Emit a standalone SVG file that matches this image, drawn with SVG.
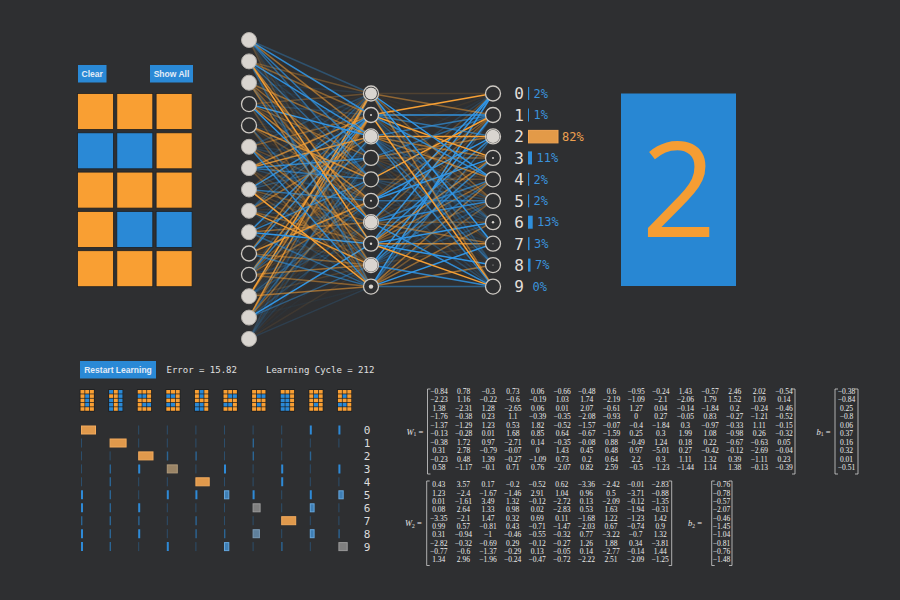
<svg xmlns="http://www.w3.org/2000/svg" width="900" height="600" viewBox="0 0 900 600">
<style>
.o{stroke:#f7a035}
.b{stroke:#3196e6}
#connectors path{stroke-width:1.5;fill:none}
.ni{fill:#2e2f31;stroke:#cdc9c3;stroke-width:1.3}
.nf{fill:#d9d5d0;stroke:#b3afaa;stroke-width:1}
.dot{fill:#d9d5d0}
.btn{fill:#2a89d6}
.btxt{font-family:"Liberation Sans",Arial,sans-serif;font-weight:bold;font-size:8.5px;fill:#e2ecf6;text-anchor:middle}
.on{fill:#f99f33}
.off{fill:#2a89d6}
.cell{stroke:#1f2022;stroke-width:0.8}
.mono{font-family:"DejaVu Sans Mono","Liberation Mono",monospace}
.od{font-size:16px;fill:#e2dfda;text-anchor:middle}
.pt{font-size:12px;fill:#3b93dc}
.pb{fill:#2f8fdc}
.stat{font-size:9px;fill:#e0e0e0}
.ml{font-size:11px;fill:#dcdcdc;text-anchor:middle}
.mx{font-family:"Liberation Serif","DejaVu Serif",serif;font-size:7.5px;fill:#ececec;text-anchor:middle}
.lab{font-family:"Liberation Serif","DejaVu Serif",serif;font-size:8.5px;fill:#e6e6e6}
.brk{fill:none;stroke:#d0d0d0;stroke-width:0.8}
.t1{stroke:#2a89d6;stroke-width:1;opacity:.35}
.t2{stroke:#2a89d6;stroke-width:1.4;opacity:.6}
.t3{stroke:#2f8fe0;stroke-width:2;opacity:.95}
.bo{fill:#e0994c;stroke:#f2aa5c;stroke-width:1}
.bb{fill:#3f7fb5;stroke:#64a6dc;stroke-width:1}
.bg{fill:#7f7f7f;stroke:#9a9a9a;stroke-width:1}
.bt{fill:#9a8466;stroke:#b09a7a;stroke-width:1}
.bgb{fill:#5f809c;stroke:#7a9ab5;stroke-width:1}
.ib{fill:#1d1e20}
</style>
<rect width="900" height="600" fill="#2e2f31"/>

<g id="buttons">
<rect class="btn" x="78" y="65" width="28.5" height="17.5"/>
<text class="btxt" x="92.2" y="76.8">Clear</text>
<rect class="btn" x="150" y="65" width="43" height="17.5"/>
<text class="btxt" x="171.5" y="76.8">Show All</text>
</g>
<g id="input-grid">
<rect class="cell on" x="77.5" y="93.5" width="36" height="36"/>
<rect class="cell on" x="116.8" y="93.5" width="36" height="36"/>
<rect class="cell on" x="156.1" y="93.5" width="36" height="36"/>
<rect class="cell off" x="77.5" y="132.8" width="36" height="36"/>
<rect class="cell off" x="116.8" y="132.8" width="36" height="36"/>
<rect class="cell on" x="156.1" y="132.8" width="36" height="36"/>
<rect class="cell on" x="77.5" y="172.1" width="36" height="36"/>
<rect class="cell on" x="116.8" y="172.1" width="36" height="36"/>
<rect class="cell on" x="156.1" y="172.1" width="36" height="36"/>
<rect class="cell on" x="77.5" y="211.4" width="36" height="36"/>
<rect class="cell off" x="116.8" y="211.4" width="36" height="36"/>
<rect class="cell off" x="156.1" y="211.4" width="36" height="36"/>
<rect class="cell on" x="77.5" y="250.7" width="36" height="36"/>
<rect class="cell on" x="116.8" y="250.7" width="36" height="36"/>
<rect class="cell on" x="156.1" y="250.7" width="36" height="36"/>
</g>

<g id="connectors">
<path class="b" opacity=".34" d="M249 40L371 93.5"/>
<path class="o" opacity=".31" d="M249 61.4L371 93.5"/>
<path class="b" opacity=".12" d="M249 82.7L371 93.5"/>
<path class="o" opacity=".29" d="M249 104.1L371 93.5"/>
<path class="o" opacity=".04" d="M249 125.4L371 93.5"/>
<path class="b" opacity=".26" d="M249 146.8L371 93.5"/>
<path class="b" opacity=".19" d="M249 168.1L371 93.5"/>
<path class="o" opacity=".24" d="M249 189.5L371 93.5"/>
<path class="b" opacity=".38" d="M249 210.8L371 93.5"/>
<path class="b" opacity=".1" d="M249 232.2L371 93.5"/>
<path class="o" opacity=".57" d="M249 253.5L371 93.5"/>
<path class="b" opacity=".23" d="M249 274.9L371 93.5"/>
<path class="o" opacity=".98" d="M249 296.2L371 93.5"/>
<path class="o" opacity=".81" d="M249 317.6L371 93.5"/>
<path class="b" opacity=".22" d="M249 338.9L371 93.5"/>

<path class="b" opacity=".89" d="M249 40L371 115"/>
<path class="o" opacity=".46" d="M249 61.4L371 115"/>
<path class="b" opacity=".09" d="M249 82.7L371 115"/>
<path class="b" opacity=".24" d="M249 104.1L371 115"/>
<path class="b" opacity=".08" d="M249 125.4L371 115"/>
<path class="o" opacity=".41" d="M249 146.8L371 115"/>
<path class="o" opacity=".7" d="M249 168.1L371 115"/>
<path class="b" opacity=".88" d="M249 189.5L371 115"/>
<path class="b" opacity=".44" d="M249 210.8L371 115"/>
<path class="b" opacity=".84" d="M249 232.2L371 115"/>
<path class="b" opacity=".82" d="M249 253.5L371 115"/>
<path class="o" opacity=".72" d="M249 274.9L371 115"/>
<path class="o" opacity=".61" d="M249 296.2L371 115"/>
<path class="o" opacity=".44" d="M249 317.6L371 115"/>
<path class="o" opacity=".06" d="M249 338.9L371 115"/>

<path class="o" opacity=".55" d="M249 40L371 136.4"/>
<path class="b" opacity=".92" d="M249 61.4L371 136.4"/>
<path class="o" opacity=".51" d="M249 82.7L371 136.4"/>
<path class="b" opacity="1" d="M249 104.1L371 136.4"/>
<path class="o" opacity=".04" d="M249 125.4L371 136.4"/>
<path class="o" opacity=".04" d="M249 146.8L371 136.4"/>
<path class="o" opacity=".83" d="M249 168.1L371 136.4"/>
<path class="b" opacity=".24" d="M249 189.5L371 136.4"/>
<path class="o" opacity=".51" d="M249 210.8L371 136.4"/>
<path class="o" opacity=".04" d="M249 232.2L371 136.4"/>
<path class="b" opacity=".06" d="M249 253.5L371 136.4"/>
<path class="b" opacity=".74" d="M249 274.9L371 136.4"/>
<path class="o" opacity=".08" d="M249 296.2L371 136.4"/>
<path class="b" opacity=".1" d="M249 317.6L371 136.4"/>
<path class="b" opacity=".18" d="M249 338.9L371 136.4"/>

<path class="b" opacity=".7" d="M249 40L371 157.9"/>
<path class="b" opacity=".15" d="M249 61.4L371 157.9"/>
<path class="o" opacity=".09" d="M249 82.7L371 157.9"/>
<path class="o" opacity=".44" d="M249 104.1L371 157.9"/>
<path class="b" opacity=".16" d="M249 125.4L371 157.9"/>
<path class="b" opacity=".14" d="M249 146.8L371 157.9"/>
<path class="b" opacity=".83" d="M249 168.1L371 157.9"/>
<path class="b" opacity=".37" d="M249 189.5L371 157.9"/>
<path class="o" opacity=".11" d="M249 232.2L371 157.9"/>
<path class="b" opacity=".04" d="M249 253.5L371 157.9"/>
<path class="o" opacity=".33" d="M249 274.9L371 157.9"/>
<path class="b" opacity=".11" d="M249 296.2L371 157.9"/>
<path class="b" opacity=".48" d="M249 317.6L371 157.9"/>
<path class="b" opacity=".21" d="M249 338.9L371 157.9"/>

<path class="b" opacity=".55" d="M249 40L371 179.3"/>
<path class="b" opacity=".52" d="M249 61.4L371 179.3"/>
<path class="o" opacity=".49" d="M249 82.7L371 179.3"/>
<path class="o" opacity=".21" d="M249 104.1L371 179.3"/>
<path class="o" opacity=".73" d="M249 125.4L371 179.3"/>
<path class="b" opacity=".21" d="M249 146.8L371 179.3"/>
<path class="b" opacity=".63" d="M249 168.1L371 179.3"/>
<path class="b" opacity=".04" d="M249 189.5L371 179.3"/>
<path class="b" opacity=".16" d="M249 210.8L371 179.3"/>
<path class="b" opacity=".74" d="M249 232.2L371 179.3"/>
<path class="o" opacity=".12" d="M249 253.5L371 179.3"/>
<path class="b" opacity=".39" d="M249 274.9L371 179.3"/>
<path class="b" opacity=".13" d="M249 296.2L371 179.3"/>
<path class="o" opacity=".44" d="M249 317.6L371 179.3"/>
<path class="b" opacity=".06" d="M249 338.9L371 179.3"/>

<path class="b" opacity=".05" d="M249 40L371 200.8"/>
<path class="b" opacity=".11" d="M249 61.4L371 200.8"/>
<path class="o" opacity=".04" d="M249 82.7L371 200.8"/>
<path class="o" opacity=".67" d="M249 104.1L371 200.8"/>
<path class="o" opacity=".34" d="M249 125.4L371 200.8"/>
<path class="o" opacity=".26" d="M249 146.8L371 200.8"/>
<path class="b" opacity=".27" d="M249 168.1L371 200.8"/>
<path class="b" opacity=".64" d="M249 189.5L371 200.8"/>
<path class="o" opacity=".1" d="M249 210.8L371 200.8"/>
<path class="o" opacity=".12" d="M249 232.2L371 200.8"/>
<path class="o" opacity=".8" d="M249 253.5L371 200.8"/>
<path class="o" opacity=".43" d="M249 274.9L371 200.8"/>
<path class="b" opacity=".39" d="M249 296.2L371 200.8"/>
<path class="o" opacity=".1" d="M249 317.6L371 200.8"/>
<path class="b" opacity=".13" d="M249 338.9L371 200.8"/>

<path class="b" opacity=".15" d="M249 40L371 222.2"/>
<path class="o" opacity=".69" d="M249 61.4L371 222.2"/>
<path class="o" opacity=".39" d="M249 82.7L371 222.2"/>
<path class="b" opacity="1" d="M249 104.1L371 222.2"/>
<path class="o" opacity=".06" d="M249 125.4L371 222.2"/>
<path class="b" opacity=".14" d="M249 146.8L371 222.2"/>
<path class="b" opacity=".04" d="M249 168.1L371 222.2"/>
<path class="o" opacity=".35" d="M249 189.5L371 222.2"/>
<path class="b" opacity=".2" d="M249 210.8L371 222.2"/>
<path class="o" opacity=".5" d="M249 232.2L371 222.2"/>
<path class="o" opacity=".07" d="M249 253.5L371 222.2"/>
<path class="o" opacity=".09" d="M249 274.9L371 222.2"/>
<path class="b" opacity=".27" d="M249 296.2L371 222.2"/>
<path class="b" opacity=".25" d="M249 317.6L371 222.2"/>
<path class="o" opacity=".04" d="M249 338.9L371 222.2"/>

<path class="o" opacity=".12" d="M249 40L371 243.7"/>
<path class="o" opacity="1" d="M249 61.4L371 243.7"/>
<path class="b" opacity=".32" d="M249 82.7L371 243.7"/>
<path class="b" opacity=".04" d="M249 104.1L371 243.7"/>
<path class="o" opacity=".57" d="M249 146.8L371 243.7"/>
<path class="o" opacity=".18" d="M249 168.1L371 243.7"/>
<path class="o" opacity=".19" d="M249 189.5L371 243.7"/>
<path class="o" opacity=".39" d="M249 210.8L371 243.7"/>
<path class="b" opacity="1" d="M249 232.2L371 243.7"/>
<path class="o" opacity=".11" d="M249 253.5L371 243.7"/>
<path class="b" opacity=".17" d="M249 274.9L371 243.7"/>
<path class="b" opacity=".05" d="M249 296.2L371 243.7"/>
<path class="b" opacity="1" d="M249 317.6L371 243.7"/>
<path class="b" opacity=".04" d="M249 338.9L371 243.7"/>

<path class="b" opacity=".09" d="M249 40L371 265.1"/>
<path class="o" opacity=".19" d="M249 61.4L371 265.1"/>
<path class="o" opacity=".56" d="M249 82.7L371 265.1"/>
<path class="b" opacity=".11" d="M249 104.1L371 265.1"/>
<path class="b" opacity=".44" d="M249 125.4L371 265.1"/>
<path class="o" opacity=".29" d="M249 146.8L371 265.1"/>
<path class="o" opacity=".08" d="M249 168.1L371 265.1"/>
<path class="o" opacity=".26" d="M249 189.5L371 265.1"/>
<path class="o" opacity=".88" d="M249 210.8L371 265.1"/>
<path class="o" opacity=".12" d="M249 232.2L371 265.1"/>
<path class="o" opacity=".44" d="M249 253.5L371 265.1"/>
<path class="o" opacity=".53" d="M249 274.9L371 265.1"/>
<path class="o" opacity=".16" d="M249 296.2L371 265.1"/>
<path class="b" opacity=".44" d="M249 317.6L371 265.1"/>
<path class="o" opacity=".09" d="M249 338.9L371 265.1"/>

<path class="o" opacity=".23" d="M249 40L371 286.6"/>
<path class="b" opacity=".47" d="M249 61.4L371 286.6"/>
<path class="b" opacity=".04" d="M249 82.7L371 286.6"/>
<path class="o" opacity=".28" d="M249 104.1L371 286.6"/>
<path class="o" opacity=".3" d="M249 125.4L371 286.6"/>
<path class="b" opacity=".83" d="M249 146.8L371 286.6"/>
<path class="o" opacity=".33" d="M249 168.1L371 286.6"/>
<path class="o" opacity="1" d="M249 189.5L371 286.6"/>
<path class="b" opacity=".2" d="M249 210.8L371 286.6"/>
<path class="b" opacity=".49" d="M249 232.2L371 286.6"/>
<path class="b" opacity=".58" d="M249 253.5L371 286.6"/>
<path class="o" opacity=".46" d="M249 274.9L371 286.6"/>
<path class="o" opacity=".55" d="M249 296.2L371 286.6"/>
<path class="b" opacity=".05" d="M249 317.6L371 286.6"/>
<path class="b" opacity=".16" d="M249 338.9L371 286.6"/>

<path class="o" opacity=".17" d="M371 93.5L493 93.5"/>
<path class="o" opacity="1" d="M371 115L493 93.5"/>
<path class="o" opacity=".07" d="M371 136.4L493 93.5"/>
<path class="b" opacity=".08" d="M371 157.9L493 93.5"/>
<path class="b" opacity=".21" d="M371 179.3L493 93.5"/>
<path class="o" opacity=".25" d="M371 200.8L493 93.5"/>
<path class="b" opacity="1" d="M371 222.2L493 93.5"/>
<path class="b" opacity=".97" d="M371 243.7L493 93.5"/>
<path class="b" opacity=".04" d="M371 265.1L493 93.5"/>
<path class="b" opacity="1" d="M371 286.6L493 93.5"/>

<path class="o" opacity=".49" d="M371 93.5L493 115"/>
<path class="b" opacity=".96" d="M371 115L493 115"/>
<path class="b" opacity=".67" d="M371 136.4L493 115"/>
<path class="b" opacity=".58" d="M371 157.9L493 115"/>
<path class="o" opacity="1" d="M371 179.3L493 115"/>
<path class="o" opacity=".42" d="M371 200.8L493 115"/>
<path class="o" opacity=".38" d="M371 222.2L493 115"/>
<path class="o" opacity=".2" d="M371 243.7L493 115"/>
<path class="b" opacity="1" d="M371 265.1L493 115"/>
<path class="b" opacity=".35" d="M371 286.6L493 115"/>

<path class="o" opacity=".04" d="M371 93.5L493 136.4"/>
<path class="b" opacity=".64" d="M371 115L493 136.4"/>
<path class="o" opacity="1" d="M371 136.4L493 136.4"/>
<path class="o" opacity=".53" d="M371 157.9L493 136.4"/>
<path class="b" opacity=".05" d="M371 179.3L493 136.4"/>
<path class="b" opacity="1" d="M371 200.8L493 136.4"/>
<path class="o" opacity=".05" d="M371 222.2L493 136.4"/>
<path class="b" opacity=".84" d="M371 243.7L493 136.4"/>
<path class="b" opacity=".05" d="M371 265.1L493 136.4"/>
<path class="b" opacity=".54" d="M371 286.6L493 136.4"/>

<path class="o" opacity=".04" d="M371 93.5L493 157.9"/>
<path class="o" opacity="1" d="M371 115L493 157.9"/>
<path class="o" opacity=".53" d="M371 136.4L493 157.9"/>
<path class="o" opacity=".39" d="M371 157.9L493 157.9"/>
<path class="o" opacity=".04" d="M371 179.3L493 157.9"/>
<path class="b" opacity="1" d="M371 200.8L493 157.9"/>
<path class="o" opacity=".21" d="M371 222.2L493 157.9"/>
<path class="o" opacity=".65" d="M371 243.7L493 157.9"/>
<path class="b" opacity=".78" d="M371 265.1L493 157.9"/>
<path class="b" opacity=".12" d="M371 286.6L493 157.9"/>

<path class="b" opacity="1" d="M371 93.5L493 179.3"/>
<path class="b" opacity=".84" d="M371 115L493 179.3"/>
<path class="o" opacity=".59" d="M371 136.4L493 179.3"/>
<path class="o" opacity=".13" d="M371 157.9L493 179.3"/>
<path class="o" opacity=".28" d="M371 179.3L493 179.3"/>
<path class="o" opacity=".04" d="M371 200.8L493 179.3"/>
<path class="b" opacity=".67" d="M371 222.2L493 179.3"/>
<path class="o" opacity=".49" d="M371 243.7L493 179.3"/>
<path class="b" opacity=".49" d="M371 265.1L493 179.3"/>
<path class="o" opacity=".57" d="M371 286.6L493 179.3"/>

<path class="o" opacity=".4" d="M371 93.5L493 200.8"/>
<path class="o" opacity=".23" d="M371 115L493 200.8"/>
<path class="b" opacity=".32" d="M371 136.4L493 200.8"/>
<path class="o" opacity=".17" d="M371 157.9L493 200.8"/>
<path class="b" opacity=".28" d="M371 179.3L493 200.8"/>
<path class="b" opacity=".59" d="M371 200.8L493 200.8"/>
<path class="b" opacity=".81" d="M371 222.2L493 200.8"/>
<path class="o" opacity=".27" d="M371 243.7L493 200.8"/>
<path class="b" opacity=".3" d="M371 265.1L493 200.8"/>
<path class="o" opacity=".36" d="M371 286.6L493 200.8"/>

<path class="o" opacity=".12" d="M371 93.5L493 222.2"/>
<path class="b" opacity=".38" d="M371 115L493 222.2"/>
<path class="b" opacity=".4" d="M371 136.4L493 222.2"/>
<path class="b" opacity=".18" d="M371 157.9L493 222.2"/>
<path class="b" opacity=".22" d="M371 179.3L493 222.2"/>
<path class="b" opacity=".13" d="M371 200.8L493 222.2"/>
<path class="o" opacity=".31" d="M371 222.2L493 222.2"/>
<path class="b" opacity="1" d="M371 243.7L493 222.2"/>
<path class="b" opacity=".28" d="M371 265.1L493 222.2"/>
<path class="o" opacity=".53" d="M371 286.6L493 222.2"/>

<path class="b" opacity="1" d="M371 93.5L493 243.7"/>
<path class="b" opacity=".13" d="M371 115L493 243.7"/>
<path class="b" opacity=".28" d="M371 136.4L493 243.7"/>
<path class="o" opacity=".12" d="M371 157.9L493 243.7"/>
<path class="b" opacity=".05" d="M371 179.3L493 243.7"/>
<path class="b" opacity=".11" d="M371 200.8L493 243.7"/>
<path class="o" opacity=".5" d="M371 222.2L493 243.7"/>
<path class="o" opacity=".75" d="M371 243.7L493 243.7"/>
<path class="o" opacity=".14" d="M371 265.1L493 243.7"/>
<path class="b" opacity="1" d="M371 286.6L493 243.7"/>

<path class="b" opacity=".31" d="M371 93.5L493 265.1"/>
<path class="b" opacity=".24" d="M371 115L493 265.1"/>
<path class="b" opacity=".55" d="M371 136.4L493 265.1"/>
<path class="b" opacity=".12" d="M371 157.9L493 265.1"/>
<path class="o" opacity=".05" d="M371 179.3L493 265.1"/>
<path class="b" opacity=".04" d="M371 200.8L493 265.1"/>
<path class="o" opacity=".06" d="M371 222.2L493 265.1"/>
<path class="b" opacity="1" d="M371 243.7L493 265.1"/>
<path class="b" opacity=".06" d="M371 265.1L493 265.1"/>
<path class="o" opacity=".58" d="M371 286.6L493 265.1"/>

<path class="o" opacity=".54" d="M371 93.5L493 286.6"/>
<path class="o" opacity="1" d="M371 115L493 286.6"/>
<path class="b" opacity=".78" d="M371 136.4L493 286.6"/>
<path class="b" opacity=".1" d="M371 157.9L493 286.6"/>
<path class="b" opacity=".19" d="M371 179.3L493 286.6"/>
<path class="b" opacity=".29" d="M371 200.8L493 286.6"/>
<path class="b" opacity=".89" d="M371 222.2L493 286.6"/>
<path class="o" opacity="1" d="M371 243.7L493 286.6"/>
<path class="b" opacity=".84" d="M371 265.1L493 286.6"/>
<path class="b" opacity=".5" d="M371 286.6L493 286.6"/>
</g>

<g id="in-0"><circle class="nf" cx="249" cy="40" r="7.5"/></g>
<g id="in-1"><circle class="nf" cx="249" cy="61.4" r="7.5"/></g>
<g id="in-2"><circle class="nf" cx="249" cy="82.7" r="7.5"/></g>
<g id="in-3"><circle class="ni" cx="249" cy="104.1" r="7.5"/></g>
<g id="in-4"><circle class="ni" cx="249" cy="125.4" r="7.5"/></g>
<g id="in-5"><circle class="nf" cx="249" cy="146.8" r="7.5"/></g>
<g id="in-6"><circle class="nf" cx="249" cy="168.1" r="7.5"/></g>
<g id="in-7"><circle class="nf" cx="249" cy="189.5" r="7.5"/></g>
<g id="in-8"><circle class="nf" cx="249" cy="210.8" r="7.5"/></g>
<g id="in-9"><circle class="nf" cx="249" cy="232.2" r="7.5"/></g>
<g id="in-10"><circle class="ni" cx="249" cy="253.5" r="7.5"/></g>
<g id="in-11"><circle class="ni" cx="249" cy="274.9" r="7.5"/></g>
<g id="in-12"><circle class="nf" cx="249" cy="296.2" r="7.5"/></g>
<g id="in-13"><circle class="nf" cx="249" cy="317.6" r="7.5"/></g>
<g id="in-14"><circle class="nf" cx="249" cy="338.9" r="7.5"/></g>

<g id="hid-0"><circle class="ni" cx="371" cy="93.5" r="7.5"/><circle class="dot" cx="371" cy="93.5" r="6"/></g>
<g id="hid-1"><circle class="ni" cx="371" cy="115" r="7.5"/><circle class="dot" cx="371" cy="115" r="1"/></g>
<g id="hid-2"><circle class="ni" cx="371" cy="136.4" r="7.5"/><circle class="dot" cx="371" cy="136.4" r="6.6"/></g>
<g id="hid-3"><circle class="ni" cx="371" cy="157.9" r="7.5"/></g>
<g id="hid-4"><circle class="ni" cx="371" cy="179.3" r="7.5"/></g>
<g id="hid-5"><circle class="ni" cx="371" cy="200.8" r="7.5"/><circle class="dot" cx="371" cy="200.8" r="1"/></g>
<g id="hid-6"><circle class="ni" cx="371" cy="222.2" r="7.5"/><circle class="dot" cx="371" cy="222.2" r="6.6"/></g>
<g id="hid-7"><circle class="ni" cx="371" cy="243.7" r="7.5"/><circle class="dot" cx="371" cy="243.7" r="1.2"/></g>
<g id="hid-8"><circle class="ni" cx="371" cy="265.1" r="7.5"/><circle class="dot" cx="371" cy="265.1" r="6.6"/></g>
<g id="hid-9"><circle class="ni" cx="371" cy="286.6" r="7.5"/><circle class="dot" cx="371" cy="286.6" r="2.2"/></g>

<g id="out-0" class="mono"><circle class="ni" cx="493" cy="93.5" r="7.5"/><text class="od" x="519" y="99.3">0</text><rect class="pb" x="528" y="87" width="1.2" height="13"/><text class="pt" x="533.5" y="97.7">2%</text></g>
<g id="out-1" class="mono"><circle class="ni" cx="493" cy="115" r="7.5"/><text class="od" x="519" y="120.8">1</text><rect class="pb" x="528" y="108.5" width="1" height="13"/><text class="pt" x="533.5" y="119.2">1%</text></g>
<g id="out-2" class="mono"><circle class="ni" cx="493" cy="136.4" r="7.5"/><circle class="dot" cx="493" cy="136.4" r="6.6"/><text class="od" x="519" y="142.2">2</text><rect x="528.5" y="130.4" width="29.5" height="12.5" fill="#e39a48" stroke="#f3a654"/><text class="pt" x="562" y="140.6" style="fill:#eda050">82%</text></g>
<g id="out-3" class="mono"><circle class="ni" cx="493" cy="157.9" r="7.5"/><circle class="dot" cx="493" cy="157.9" r="1"/><text class="od" x="519" y="163.7">3</text><rect class="pb" x="528" y="151.4" width="4" height="13"/><text class="pt" x="536.5" y="162.1">11%</text></g>
<g id="out-4" class="mono"><circle class="ni" cx="493" cy="179.3" r="7.5"/><text class="od" x="519" y="185.1">4</text><rect class="pb" x="528" y="172.8" width="1.2" height="13"/><text class="pt" x="533.5" y="183.5">2%</text></g>
<g id="out-5" class="mono"><circle class="ni" cx="493" cy="200.8" r="7.5"/><text class="od" x="519" y="206.6">5</text><rect class="pb" x="528" y="194.3" width="1.2" height="13"/><text class="pt" x="533.5" y="205">2%</text></g>
<g id="out-6" class="mono"><circle class="ni" cx="493" cy="222.2" r="7.5"/><circle class="dot" cx="493" cy="222.2" r="1.2"/><text class="od" x="519" y="228">6</text><rect class="pb" x="528" y="215.7" width="4.7" height="13"/><text class="pt" x="537" y="226.4">13%</text></g>
<g id="out-7" class="mono"><circle class="ni" cx="493" cy="243.7" r="7.5"/><circle class="dot" cx="493" cy="243.7" r="0.5"/><text class="od" x="519" y="249.5">7</text><rect class="pb" x="528" y="237.2" width="1.5" height="13"/><text class="pt" x="534" y="247.9">3%</text></g>
<g id="out-8" class="mono"><circle class="ni" cx="493" cy="265.1" r="7.5"/><circle class="dot" cx="493" cy="265.1" r="0.5"/><text class="od" x="519" y="270.9">8</text><rect class="pb" x="528" y="258.6" width="2.5" height="13"/><text class="pt" x="535" y="269.3">7%</text></g>
<g id="out-9" class="mono"><circle class="ni" cx="493" cy="286.6" r="7.5"/><text class="od" x="519" y="292.4">9</text><text class="pt" x="532.5" y="290.8">0%</text></g>

<g id="prediction">
<rect x="621" y="93.5" width="115" height="192.5" fill="#2887d3"/>
<text x="679" y="236.5" font-family="'Open Sans','Noto Sans',sans-serif" font-size="131" fill="#f59d33" text-anchor="middle">2</text>
</g>

<g id="status">
<rect class="btn" x="80" y="361" width="76" height="17.5"/>
<text class="btxt" x="118" y="372.8">Restart Learning</text>
<text class="mono stat" x="166.5" y="373">Error = 15.82</text>
<text class="mono stat" x="266" y="373">Learning Cycle = 212</text>
</g>

<g id="samples">
<g transform="translate(80.5 390)"><rect class="ib" x="-0.8" y="-0.8" width="14.9" height="22.4"/>
<rect class="on" x="0" y="0" width="4" height="3.6"/><rect class="on" x="4.7" y="0" width="4" height="3.6"/><rect class="on" x="9.4" y="0" width="4" height="3.6"/>
<rect class="on" x="0" y="4.3" width="4" height="3.6"/><rect class="off" x="4.7" y="4.3" width="4" height="3.6"/><rect class="on" x="9.4" y="4.3" width="4" height="3.6"/>
<rect class="on" x="0" y="8.6" width="4" height="3.6"/><rect class="off" x="4.7" y="8.6" width="4" height="3.6"/><rect class="on" x="9.4" y="8.6" width="4" height="3.6"/>
<rect class="on" x="0" y="12.9" width="4" height="3.6"/><rect class="off" x="4.7" y="12.9" width="4" height="3.6"/><rect class="on" x="9.4" y="12.9" width="4" height="3.6"/>
<rect class="on" x="0" y="17.2" width="4" height="3.6"/><rect class="on" x="4.7" y="17.2" width="4" height="3.6"/><rect class="on" x="9.4" y="17.2" width="4" height="3.6"/></g>
<g transform="translate(109.1 390)"><rect class="ib" x="-0.8" y="-0.8" width="14.9" height="22.4"/>
<rect class="off" x="0" y="0" width="4" height="3.6"/><rect class="on" x="4.7" y="0" width="4" height="3.6"/><rect class="off" x="9.4" y="0" width="4" height="3.6"/>
<rect class="on" x="0" y="4.3" width="4" height="3.6"/><rect class="on" x="4.7" y="4.3" width="4" height="3.6"/><rect class="off" x="9.4" y="4.3" width="4" height="3.6"/>
<rect class="off" x="0" y="8.6" width="4" height="3.6"/><rect class="on" x="4.7" y="8.6" width="4" height="3.6"/><rect class="off" x="9.4" y="8.6" width="4" height="3.6"/>
<rect class="off" x="0" y="12.9" width="4" height="3.6"/><rect class="on" x="4.7" y="12.9" width="4" height="3.6"/><rect class="off" x="9.4" y="12.9" width="4" height="3.6"/>
<rect class="off" x="0" y="17.2" width="4" height="3.6"/><rect class="on" x="4.7" y="17.2" width="4" height="3.6"/><rect class="off" x="9.4" y="17.2" width="4" height="3.6"/></g>
<g transform="translate(137.7 390)"><rect class="ib" x="-0.8" y="-0.8" width="14.9" height="22.4"/>
<rect class="on" x="0" y="0" width="4" height="3.6"/><rect class="on" x="4.7" y="0" width="4" height="3.6"/><rect class="on" x="9.4" y="0" width="4" height="3.6"/>
<rect class="off" x="0" y="4.3" width="4" height="3.6"/><rect class="off" x="4.7" y="4.3" width="4" height="3.6"/><rect class="on" x="9.4" y="4.3" width="4" height="3.6"/>
<rect class="on" x="0" y="8.6" width="4" height="3.6"/><rect class="on" x="4.7" y="8.6" width="4" height="3.6"/><rect class="on" x="9.4" y="8.6" width="4" height="3.6"/>
<rect class="on" x="0" y="12.9" width="4" height="3.6"/><rect class="off" x="4.7" y="12.9" width="4" height="3.6"/><rect class="off" x="9.4" y="12.9" width="4" height="3.6"/>
<rect class="on" x="0" y="17.2" width="4" height="3.6"/><rect class="on" x="4.7" y="17.2" width="4" height="3.6"/><rect class="on" x="9.4" y="17.2" width="4" height="3.6"/></g>
<g transform="translate(166.3 390)"><rect class="ib" x="-0.8" y="-0.8" width="14.9" height="22.4"/>
<rect class="on" x="0" y="0" width="4" height="3.6"/><rect class="on" x="4.7" y="0" width="4" height="3.6"/><rect class="on" x="9.4" y="0" width="4" height="3.6"/>
<rect class="off" x="0" y="4.3" width="4" height="3.6"/><rect class="off" x="4.7" y="4.3" width="4" height="3.6"/><rect class="on" x="9.4" y="4.3" width="4" height="3.6"/>
<rect class="on" x="0" y="8.6" width="4" height="3.6"/><rect class="on" x="4.7" y="8.6" width="4" height="3.6"/><rect class="on" x="9.4" y="8.6" width="4" height="3.6"/>
<rect class="off" x="0" y="12.9" width="4" height="3.6"/><rect class="off" x="4.7" y="12.9" width="4" height="3.6"/><rect class="on" x="9.4" y="12.9" width="4" height="3.6"/>
<rect class="on" x="0" y="17.2" width="4" height="3.6"/><rect class="on" x="4.7" y="17.2" width="4" height="3.6"/><rect class="on" x="9.4" y="17.2" width="4" height="3.6"/></g>
<g transform="translate(194.9 390)"><rect class="ib" x="-0.8" y="-0.8" width="14.9" height="22.4"/>
<rect class="on" x="0" y="0" width="4" height="3.6"/><rect class="off" x="4.7" y="0" width="4" height="3.6"/><rect class="on" x="9.4" y="0" width="4" height="3.6"/>
<rect class="on" x="0" y="4.3" width="4" height="3.6"/><rect class="off" x="4.7" y="4.3" width="4" height="3.6"/><rect class="on" x="9.4" y="4.3" width="4" height="3.6"/>
<rect class="on" x="0" y="8.6" width="4" height="3.6"/><rect class="on" x="4.7" y="8.6" width="4" height="3.6"/><rect class="on" x="9.4" y="8.6" width="4" height="3.6"/>
<rect class="off" x="0" y="12.9" width="4" height="3.6"/><rect class="off" x="4.7" y="12.9" width="4" height="3.6"/><rect class="on" x="9.4" y="12.9" width="4" height="3.6"/>
<rect class="off" x="0" y="17.2" width="4" height="3.6"/><rect class="off" x="4.7" y="17.2" width="4" height="3.6"/><rect class="on" x="9.4" y="17.2" width="4" height="3.6"/></g>
<g transform="translate(223.5 390)"><rect class="ib" x="-0.8" y="-0.8" width="14.9" height="22.4"/>
<rect class="on" x="0" y="0" width="4" height="3.6"/><rect class="on" x="4.7" y="0" width="4" height="3.6"/><rect class="on" x="9.4" y="0" width="4" height="3.6"/>
<rect class="on" x="0" y="4.3" width="4" height="3.6"/><rect class="off" x="4.7" y="4.3" width="4" height="3.6"/><rect class="off" x="9.4" y="4.3" width="4" height="3.6"/>
<rect class="on" x="0" y="8.6" width="4" height="3.6"/><rect class="on" x="4.7" y="8.6" width="4" height="3.6"/><rect class="on" x="9.4" y="8.6" width="4" height="3.6"/>
<rect class="off" x="0" y="12.9" width="4" height="3.6"/><rect class="off" x="4.7" y="12.9" width="4" height="3.6"/><rect class="on" x="9.4" y="12.9" width="4" height="3.6"/>
<rect class="on" x="0" y="17.2" width="4" height="3.6"/><rect class="on" x="4.7" y="17.2" width="4" height="3.6"/><rect class="on" x="9.4" y="17.2" width="4" height="3.6"/></g>
<g transform="translate(252.1 390)"><rect class="ib" x="-0.8" y="-0.8" width="14.9" height="22.4"/>
<rect class="on" x="0" y="0" width="4" height="3.6"/><rect class="on" x="4.7" y="0" width="4" height="3.6"/><rect class="on" x="9.4" y="0" width="4" height="3.6"/>
<rect class="on" x="0" y="4.3" width="4" height="3.6"/><rect class="off" x="4.7" y="4.3" width="4" height="3.6"/><rect class="off" x="9.4" y="4.3" width="4" height="3.6"/>
<rect class="on" x="0" y="8.6" width="4" height="3.6"/><rect class="on" x="4.7" y="8.6" width="4" height="3.6"/><rect class="on" x="9.4" y="8.6" width="4" height="3.6"/>
<rect class="on" x="0" y="12.9" width="4" height="3.6"/><rect class="off" x="4.7" y="12.9" width="4" height="3.6"/><rect class="on" x="9.4" y="12.9" width="4" height="3.6"/>
<rect class="on" x="0" y="17.2" width="4" height="3.6"/><rect class="on" x="4.7" y="17.2" width="4" height="3.6"/><rect class="on" x="9.4" y="17.2" width="4" height="3.6"/></g>
<g transform="translate(280.7 390)"><rect class="ib" x="-0.8" y="-0.8" width="14.9" height="22.4"/>
<rect class="on" x="0" y="0" width="4" height="3.6"/><rect class="on" x="4.7" y="0" width="4" height="3.6"/><rect class="on" x="9.4" y="0" width="4" height="3.6"/>
<rect class="off" x="0" y="4.3" width="4" height="3.6"/><rect class="off" x="4.7" y="4.3" width="4" height="3.6"/><rect class="on" x="9.4" y="4.3" width="4" height="3.6"/>
<rect class="off" x="0" y="8.6" width="4" height="3.6"/><rect class="off" x="4.7" y="8.6" width="4" height="3.6"/><rect class="on" x="9.4" y="8.6" width="4" height="3.6"/>
<rect class="off" x="0" y="12.9" width="4" height="3.6"/><rect class="off" x="4.7" y="12.9" width="4" height="3.6"/><rect class="on" x="9.4" y="12.9" width="4" height="3.6"/>
<rect class="off" x="0" y="17.2" width="4" height="3.6"/><rect class="off" x="4.7" y="17.2" width="4" height="3.6"/><rect class="on" x="9.4" y="17.2" width="4" height="3.6"/></g>
<g transform="translate(309.3 390)"><rect class="ib" x="-0.8" y="-0.8" width="14.9" height="22.4"/>
<rect class="on" x="0" y="0" width="4" height="3.6"/><rect class="on" x="4.7" y="0" width="4" height="3.6"/><rect class="on" x="9.4" y="0" width="4" height="3.6"/>
<rect class="on" x="0" y="4.3" width="4" height="3.6"/><rect class="off" x="4.7" y="4.3" width="4" height="3.6"/><rect class="on" x="9.4" y="4.3" width="4" height="3.6"/>
<rect class="on" x="0" y="8.6" width="4" height="3.6"/><rect class="on" x="4.7" y="8.6" width="4" height="3.6"/><rect class="on" x="9.4" y="8.6" width="4" height="3.6"/>
<rect class="on" x="0" y="12.9" width="4" height="3.6"/><rect class="off" x="4.7" y="12.9" width="4" height="3.6"/><rect class="on" x="9.4" y="12.9" width="4" height="3.6"/>
<rect class="on" x="0" y="17.2" width="4" height="3.6"/><rect class="on" x="4.7" y="17.2" width="4" height="3.6"/><rect class="on" x="9.4" y="17.2" width="4" height="3.6"/></g>
<g transform="translate(337.9 390)"><rect class="ib" x="-0.8" y="-0.8" width="14.9" height="22.4"/>
<rect class="on" x="0" y="0" width="4" height="3.6"/><rect class="on" x="4.7" y="0" width="4" height="3.6"/><rect class="on" x="9.4" y="0" width="4" height="3.6"/>
<rect class="on" x="0" y="4.3" width="4" height="3.6"/><rect class="off" x="4.7" y="4.3" width="4" height="3.6"/><rect class="on" x="9.4" y="4.3" width="4" height="3.6"/>
<rect class="on" x="0" y="8.6" width="4" height="3.6"/><rect class="on" x="4.7" y="8.6" width="4" height="3.6"/><rect class="on" x="9.4" y="8.6" width="4" height="3.6"/>
<rect class="off" x="0" y="12.9" width="4" height="3.6"/><rect class="off" x="4.7" y="12.9" width="4" height="3.6"/><rect class="on" x="9.4" y="12.9" width="4" height="3.6"/>
<rect class="on" x="0" y="17.2" width="4" height="3.6"/><rect class="on" x="4.7" y="17.2" width="4" height="3.6"/><rect class="on" x="9.4" y="17.2" width="4" height="3.6"/></g>
</g>

<g id="results">
<path class="t1" d="M138.7 425.5v9M167.3 425.5v9M195.9 425.5v9M224.5 425.5v9M253.1 425.5v9M281.7 425.5v9M81.5 438.5v9M138.7 438.5v9M167.3 438.5v9M195.9 438.5v9M224.5 438.5v9M281.7 438.5v9M310.3 438.5v9M338.9 438.5v9M81.5 451.4v9M110.1 451.4v9M224.5 451.4v9M281.7 451.4v9M81.5 464.4v9M195.9 464.4v9M253.1 464.4v9M310.3 464.4v9M81.5 477.3v9M138.7 477.3v9M167.3 477.3v9M224.5 477.3v9M253.1 477.3v9M310.3 477.3v9M338.9 477.3v9M138.7 490.3v9M281.7 490.3v9M167.3 503.3v9M195.9 503.3v9M224.5 503.3v9M281.7 503.3v9M338.9 503.3v9M167.3 516.2v9M224.5 516.2v9M253.1 516.2v9M310.3 516.2v9M338.9 516.2v9M167.3 529.2v9M281.7 529.2v9M138.7 542.1v9M195.9 542.1v9M253.1 542.1v9M310.3 542.1v9"/>
<path class="t2" d="M253.3 438.5v9M167.5 451.4v9M196.1 451.4v9M253.3 451.4v9M310.5 451.4v9M110.3 464.4v9M110.3 477.3v9M110.3 490.3v9M110.3 503.3v9M81.7 516.2v9M110.3 516.2v9M138.9 516.2v9M196.1 516.2v9M110.3 529.2v9M196.1 529.2v9M224.7 529.2v9M339.1 529.2v9M110.3 542.1v9M281.9 542.1v9"/>
<path class="t3" d="M310.8 425.5v9M339.4 425.5v9M139.2 464.4v9M225 464.4v9M282.2 464.4v9M339.4 464.4v9M282.2 477.3v9M82 490.3v9M167.8 490.3v9M196.4 490.3v9M253.6 490.3v9M310.8 490.3v9M82 503.3v9M139.2 503.3v9M82 529.2v9M139.2 529.2v9M82 542.1v9M167.8 542.1v9"/>
<rect class="bo" x="81.5" y="426" width="14" height="8"/>
<rect class="bo" x="110.1" y="439" width="16" height="8"/>
<rect class="bo" x="138.7" y="451.9" width="14.3" height="8"/>
<rect class="bt" x="167.3" y="464.9" width="10" height="8"/>
<rect class="bo" x="195.9" y="477.8" width="13.3" height="8"/>
<rect class="bb" x="224.5" y="490.8" width="4.3" height="8"/>
<rect class="bb" x="338.9" y="490.8" width="4.3" height="8"/>
<rect class="bg" x="253.1" y="503.8" width="7" height="8"/>
<rect class="bb" x="310.3" y="503.8" width="3.8" height="8"/>
<rect class="bo" x="281.7" y="516.7" width="14" height="8"/>
<rect class="bgb" x="253.1" y="529.7" width="6.3" height="8"/>
<rect class="bb" x="310.3" y="529.7" width="3.8" height="8"/>
<rect class="bb" x="224.5" y="542.6" width="4.3" height="8"/>
<rect class="bg" x="338.9" y="542.6" width="8.3" height="8"/>
<g class="mono ml">
<text x="367" y="434">0</text><text x="367" y="447">1</text><text x="367" y="459.9">2</text><text x="367" y="472.9">3</text><text x="367" y="485.8">4</text><text x="367" y="498.8">5</text><text x="367" y="511.8">6</text><text x="367" y="524.7">7</text><text x="367" y="537.7">8</text><text x="367" y="550.6">9</text>
</g>
</g>

<g id="W1">
<text class="lab" x="406.5" y="434.5"><tspan font-style="italic">W</tspan><tspan font-size="5.5" dy="1.8">1</tspan><tspan dy="-1.8"> =</tspan></text>
<path class="brk" d="M430.5 389H427.5V474H430.5M792 389H795V474H792"/>
<g class="mx">
<text y="393.6"><tspan x="439">−0.84</tspan><tspan x="463.6">0.78</tspan><tspan x="488.3">−0.3</tspan><tspan x="512.9">0.73</tspan><tspan x="537.6">0.06</tspan><tspan x="562.2">−0.66</tspan><tspan x="586.8">−0.48</tspan><tspan x="611.5">0.6</tspan><tspan x="636.1">−0.95</tspan><tspan x="660.8">−0.24</tspan><tspan x="685.4">1.43</tspan><tspan x="710">−0.57</tspan><tspan x="734.7">2.46</tspan><tspan x="759.3">2.02</tspan><tspan x="784">−0.54</tspan></text>
<text y="402.1"><tspan x="439">−2.23</tspan><tspan x="463.6">1.16</tspan><tspan x="488.3">−0.22</tspan><tspan x="512.9">−0.6</tspan><tspan x="537.6">−0.19</tspan><tspan x="562.2">1.03</tspan><tspan x="586.8">1.74</tspan><tspan x="611.5">−2.19</tspan><tspan x="636.1">−1.09</tspan><tspan x="660.8">−2.1</tspan><tspan x="685.4">−2.06</tspan><tspan x="710">1.79</tspan><tspan x="734.7">1.52</tspan><tspan x="759.3">1.09</tspan><tspan x="784">0.14</tspan></text>
<text y="410.6"><tspan x="439">1.38</tspan><tspan x="463.6">−2.31</tspan><tspan x="488.3">1.28</tspan><tspan x="512.9">−2.65</tspan><tspan x="537.6">0.06</tspan><tspan x="562.2">0.01</tspan><tspan x="586.8">2.07</tspan><tspan x="611.5">−0.61</tspan><tspan x="636.1">1.27</tspan><tspan x="660.8">0.04</tspan><tspan x="685.4">−0.14</tspan><tspan x="710">−1.84</tspan><tspan x="734.7">0.2</tspan><tspan x="759.3">−0.24</tspan><tspan x="784">−0.46</tspan></text>
<text y="419.2"><tspan x="439">−1.76</tspan><tspan x="463.6">−0.38</tspan><tspan x="488.3">0.23</tspan><tspan x="512.9">1.1</tspan><tspan x="537.6">−0.39</tspan><tspan x="562.2">−0.35</tspan><tspan x="586.8">−2.08</tspan><tspan x="611.5">−0.93</tspan><tspan x="636.1">0</tspan><tspan x="660.8">0.27</tspan><tspan x="685.4">−0.05</tspan><tspan x="710">0.83</tspan><tspan x="734.7">−0.27</tspan><tspan x="759.3">−1.21</tspan><tspan x="784">−0.52</tspan></text>
<text y="427.7"><tspan x="439">−1.37</tspan><tspan x="463.6">−1.29</tspan><tspan x="488.3">1.23</tspan><tspan x="512.9">0.53</tspan><tspan x="537.6">1.82</tspan><tspan x="562.2">−0.52</tspan><tspan x="586.8">−1.57</tspan><tspan x="611.5">−0.07</tspan><tspan x="636.1">−0.4</tspan><tspan x="660.8">−1.84</tspan><tspan x="685.4">0.3</tspan><tspan x="710">−0.97</tspan><tspan x="734.7">−0.33</tspan><tspan x="759.3">1.11</tspan><tspan x="784">−0.15</tspan></text>
<text y="436.2"><tspan x="439">−0.13</tspan><tspan x="463.6">−0.28</tspan><tspan x="488.3">0.01</tspan><tspan x="512.9">1.68</tspan><tspan x="537.6">0.85</tspan><tspan x="562.2">0.64</tspan><tspan x="586.8">−0.67</tspan><tspan x="611.5">−1.59</tspan><tspan x="636.1">0.25</tspan><tspan x="660.8">0.3</tspan><tspan x="685.4">1.99</tspan><tspan x="710">1.08</tspan><tspan x="734.7">−0.98</tspan><tspan x="759.3">0.26</tspan><tspan x="784">−0.32</tspan></text>
<text y="444.7"><tspan x="439">−0.38</tspan><tspan x="463.6">1.72</tspan><tspan x="488.3">0.97</tspan><tspan x="512.9">−2.71</tspan><tspan x="537.6">0.14</tspan><tspan x="562.2">−0.35</tspan><tspan x="586.8">−0.08</tspan><tspan x="611.5">0.88</tspan><tspan x="636.1">−0.49</tspan><tspan x="660.8">1.24</tspan><tspan x="685.4">0.18</tspan><tspan x="710">0.22</tspan><tspan x="734.7">−0.67</tspan><tspan x="759.3">−0.63</tspan><tspan x="784">0.05</tspan></text>
<text y="453.2"><tspan x="439">0.31</tspan><tspan x="463.6">2.78</tspan><tspan x="488.3">−0.79</tspan><tspan x="512.9">−0.07</tspan><tspan x="537.6">0</tspan><tspan x="562.2">1.43</tspan><tspan x="586.8">0.45</tspan><tspan x="611.5">0.48</tspan><tspan x="636.1">0.97</tspan><tspan x="660.8">−5.01</tspan><tspan x="685.4">0.27</tspan><tspan x="710">−0.42</tspan><tspan x="734.7">−0.12</tspan><tspan x="759.3">−2.69</tspan><tspan x="784">−0.04</tspan></text>
<text y="461.8"><tspan x="439">−0.23</tspan><tspan x="463.6">0.48</tspan><tspan x="488.3">1.39</tspan><tspan x="512.9">−0.27</tspan><tspan x="537.6">−1.09</tspan><tspan x="562.2">0.73</tspan><tspan x="586.8">0.2</tspan><tspan x="611.5">0.64</tspan><tspan x="636.1">2.2</tspan><tspan x="660.8">0.3</tspan><tspan x="685.4">1.11</tspan><tspan x="710">1.32</tspan><tspan x="734.7">0.39</tspan><tspan x="759.3">−1.11</tspan><tspan x="784">0.23</tspan></text>
<text y="470.3"><tspan x="439">0.58</tspan><tspan x="463.6">−1.17</tspan><tspan x="488.3">−0.1</tspan><tspan x="512.9">0.71</tspan><tspan x="537.6">0.76</tspan><tspan x="562.2">−2.07</tspan><tspan x="586.8">0.82</tspan><tspan x="611.5">2.59</tspan><tspan x="636.1">−0.5</tspan><tspan x="660.8">−1.23</tspan><tspan x="685.4">−1.44</tspan><tspan x="710">1.14</tspan><tspan x="734.7">1.38</tspan><tspan x="759.3">−0.13</tspan><tspan x="784">−0.39</tspan></text>
</g>
</g>

<g id="b1">
<text class="lab" x="816.5" y="434.5"><tspan font-style="italic">b</tspan><tspan font-size="5.5" dy="1.8">1</tspan><tspan dy="-1.8"> =</tspan></text>
<path class="brk" d="M838 389H835V474H838M855 389H858V474H855"/>
<g class="mx">
<text x="846.5" y="393.6">−0.38</text><text x="846.5" y="402.1">−0.84</text><text x="846.5" y="410.6">0.25</text><text x="846.5" y="419.2">−0.8</text><text x="846.5" y="427.7">0.06</text><text x="846.5" y="436.2">0.37</text><text x="846.5" y="444.7">0.16</text><text x="846.5" y="453.2">0.32</text><text x="846.5" y="461.8">0.01</text><text x="846.5" y="470.3">−0.51</text>
</g>
</g>

<g id="W2">
<text class="lab" x="405" y="526"><tspan font-style="italic">W</tspan><tspan font-size="5.5" dy="1.8">2</tspan><tspan dy="-1.8"> =</tspan></text>
<path class="brk" d="M429.7 481H426.7V565.5H429.7M668.7 481H671.7V565.5H668.7"/>
<g class="mx">
<text y="487.3"><tspan x="438.8">0.43</tspan><tspan x="463.4">3.57</tspan><tspan x="488">0.17</tspan><tspan x="512.6">−0.2</tspan><tspan x="537.2">−0.52</tspan><tspan x="561.8">0.62</tspan><tspan x="586.4">−3.36</tspan><tspan x="611">−2.42</tspan><tspan x="635.6">−0.01</tspan><tspan x="660.2">−2.83</tspan></text>
<text y="495.6"><tspan x="438.8">1.23</tspan><tspan x="463.4">−2.4</tspan><tspan x="488">−1.67</tspan><tspan x="512.6">−1.46</tspan><tspan x="537.2">2.91</tspan><tspan x="561.8">1.04</tspan><tspan x="586.4">0.96</tspan><tspan x="611">0.5</tspan><tspan x="635.6">−3.71</tspan><tspan x="660.2">−0.88</tspan></text>
<text y="504"><tspan x="438.8">0.01</tspan><tspan x="463.4">−1.61</tspan><tspan x="488">3.49</tspan><tspan x="512.6">1.32</tspan><tspan x="537.2">−0.12</tspan><tspan x="561.8">−2.72</tspan><tspan x="586.4">0.13</tspan><tspan x="611">−2.09</tspan><tspan x="635.6">−0.12</tspan><tspan x="660.2">−1.35</tspan></text>
<text y="512.3"><tspan x="438.8">0.08</tspan><tspan x="463.4">2.64</tspan><tspan x="488">1.33</tspan><tspan x="512.6">0.98</tspan><tspan x="537.2">0.02</tspan><tspan x="561.8">−2.83</tspan><tspan x="586.4">0.53</tspan><tspan x="611">1.63</tspan><tspan x="635.6">−1.94</tspan><tspan x="660.2">−0.31</tspan></text>
<text y="520.6"><tspan x="438.8">−3.35</tspan><tspan x="463.4">−2.1</tspan><tspan x="488">1.47</tspan><tspan x="512.6">0.32</tspan><tspan x="537.2">0.69</tspan><tspan x="561.8">0.11</tspan><tspan x="586.4">−1.68</tspan><tspan x="611">1.22</tspan><tspan x="635.6">−1.23</tspan><tspan x="660.2">1.42</tspan></text>
<text y="529"><tspan x="438.8">0.99</tspan><tspan x="463.4">0.57</tspan><tspan x="488">−0.81</tspan><tspan x="512.6">0.43</tspan><tspan x="537.2">−0.71</tspan><tspan x="561.8">−1.47</tspan><tspan x="586.4">−2.03</tspan><tspan x="611">0.67</tspan><tspan x="635.6">−0.74</tspan><tspan x="660.2">0.9</tspan></text>
<text y="537.3"><tspan x="438.8">0.31</tspan><tspan x="463.4">−0.94</tspan><tspan x="488">−1</tspan><tspan x="512.6">−0.46</tspan><tspan x="537.2">−0.55</tspan><tspan x="561.8">−0.32</tspan><tspan x="586.4">0.77</tspan><tspan x="611">−3.22</tspan><tspan x="635.6">−0.7</tspan><tspan x="660.2">1.32</tspan></text>
<text y="545.6"><tspan x="438.8">−2.82</tspan><tspan x="463.4">−0.32</tspan><tspan x="488">−0.69</tspan><tspan x="512.6">0.29</tspan><tspan x="537.2">−0.12</tspan><tspan x="561.8">−0.27</tspan><tspan x="586.4">1.26</tspan><tspan x="611">1.88</tspan><tspan x="635.6">0.34</tspan><tspan x="660.2">−3.81</tspan></text>
<text y="553.9"><tspan x="438.8">−0.77</tspan><tspan x="463.4">−0.6</tspan><tspan x="488">−1.37</tspan><tspan x="512.6">−0.29</tspan><tspan x="537.2">0.13</tspan><tspan x="561.8">−0.05</tspan><tspan x="586.4">0.14</tspan><tspan x="611">−2.77</tspan><tspan x="635.6">−0.14</tspan><tspan x="660.2">1.44</tspan></text>
<text y="562.3"><tspan x="438.8">1.34</tspan><tspan x="463.4">2.96</tspan><tspan x="488">−1.96</tspan><tspan x="512.6">−0.24</tspan><tspan x="537.2">−0.47</tspan><tspan x="561.8">−0.72</tspan><tspan x="586.4">−2.22</tspan><tspan x="611">2.51</tspan><tspan x="635.6">−2.09</tspan><tspan x="660.2">−1.25</tspan></text>
</g>
</g>

<g id="b2">
<text class="lab" x="688" y="526"><tspan font-style="italic">b</tspan><tspan font-size="5.5" dy="1.8">2</tspan><tspan dy="-1.8"> =</tspan></text>
<path class="brk" d="M714.7 481H711.7V565.5H714.7M729 481H732V565.5H729"/>
<g class="mx">
<text x="721.5" y="487.3">−0.76</text><text x="721.5" y="495.6">−0.78</text><text x="721.5" y="504">−0.57</text><text x="721.5" y="512.3">−2.07</text><text x="721.5" y="520.6">−0.46</text><text x="721.5" y="529">−1.45</text><text x="721.5" y="537.3">−1.04</text><text x="721.5" y="545.6">−0.81</text><text x="721.5" y="553.9">−0.76</text><text x="721.5" y="562.3">−1.48</text>
</g>
</g>
</svg>
